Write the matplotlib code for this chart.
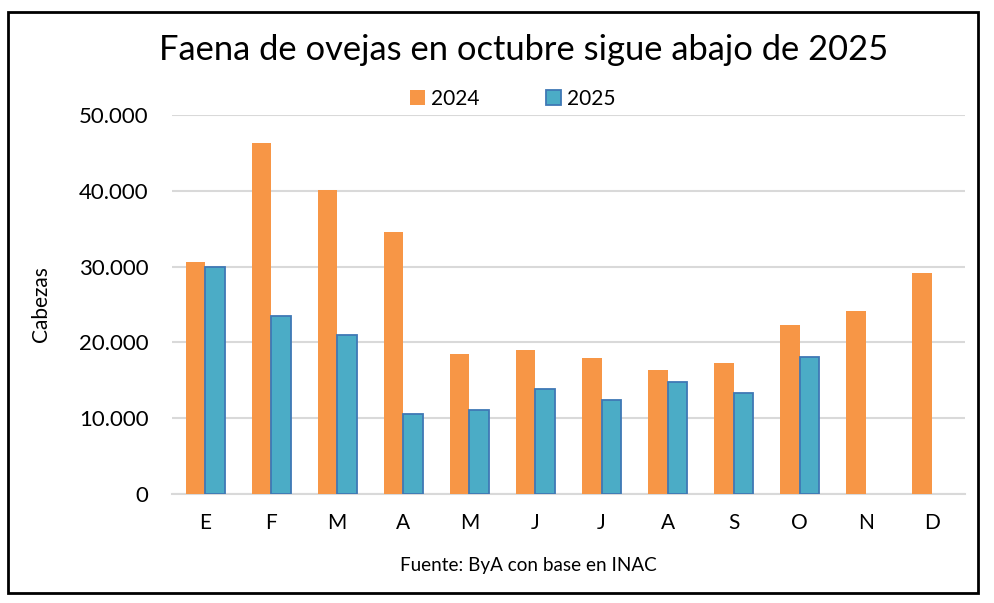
import matplotlib
matplotlib.use("Agg")
import matplotlib.pyplot as plt
from matplotlib.patches import Rectangle
import numpy as np

months = ["E", "F", "M", "A", "M", "J", "J", "A", "S", "O", "N", "D"]
v2024 = [30600, 46300, 40100, 34600, 18500, 19000, 18000, 16300, 17300, 22300, 24200, 29200]
v2025 = [30000, 23500, 21000, 10500, 11100, 13800, 12400, 14800, 13300, 18100]
yticks = [0, 10000, 20000, 30000, 40000, 50000]
ytick_labels = ["0", "10.000", "20.000", "30.000", "40.000", "50.000"]

c24 = "#F79646"
c25 = "#4BACC6"
edge25 = "#3F78B5"
font = ["Lato", "DejaVu Sans"]
plt.rcParams["font.family"] = font

W, H = 995, 603
fig = plt.figure(figsize=(W / 100, H / 100), dpi=100)

# plot area in pixels: x 172..965, y 115..494
left, right, top, bottom = 172, 965, 115, 494
ax = fig.add_axes([left / W, 1 - bottom / H, (right - left) / W, (bottom - top) / H])

x = np.arange(len(months))
bw = 0.295
ax.bar(x[:len(v2024)] - bw / 2, v2024, width=bw, color=c24, label="2024", zorder=3)
ax.bar(x[:len(v2025)] + bw / 2, v2025, width=bw, color=c25, edgecolor=edge25,
       linewidth=1.3, label="2025", zorder=3)

ax.set_xlim(-0.5, len(months) - 0.5)
ax.set_ylim(0, 50000)
ax.set_yticks(yticks)
ax.set_yticklabels(ytick_labels, fontsize=16)
ax.set_xticks(x)
ax.set_xticklabels(months, fontsize=15)
ax.tick_params(axis="both", length=0)
ax.tick_params(axis="y", pad=17)
ax.tick_params(axis="x", pad=14)
ax.grid(axis="y", color="#D9D9D9", linewidth=1.5, zorder=0)
for s in ["top", "right", "left"]:
    ax.spines[s].set_visible(False)
ax.spines["bottom"].set_color("#D9D9D9")
ax.spines["bottom"].set_linewidth(1.5)

ax.set_ylabel("Cabezas", fontsize=15)
ax.yaxis.set_label_coords(-0.152, 0.5)

fig.text(524 / W, 1 - 50 / H, "Faena de ovejas en octubre sigue abajo de 2025",
         ha="center", va="center", fontsize=24.8)

leg = ax.legend(loc="center", bbox_to_anchor=((513 - left) / (right - left), 1 + (115 - 99) / (bottom - top)),
                ncol=2, frameon=False, fontsize=15, handlelength=0.7, handleheight=0.7,
                columnspacing=3.2, handletextpad=0.3)

fig.text(528 / W, 1 - 565 / H, "Fuente: ByA con base en INAC", ha="center", va="center", fontsize=13.6)

fig.patches.append(Rectangle((8 / W, 1 - 593 / H), (978 - 8) / W, (593 - 12) / H,
                             transform=fig.transFigure, fill=False, edgecolor="black",
                             linewidth=2, zorder=10))

fig.savefig("out.png", dpi=100)
